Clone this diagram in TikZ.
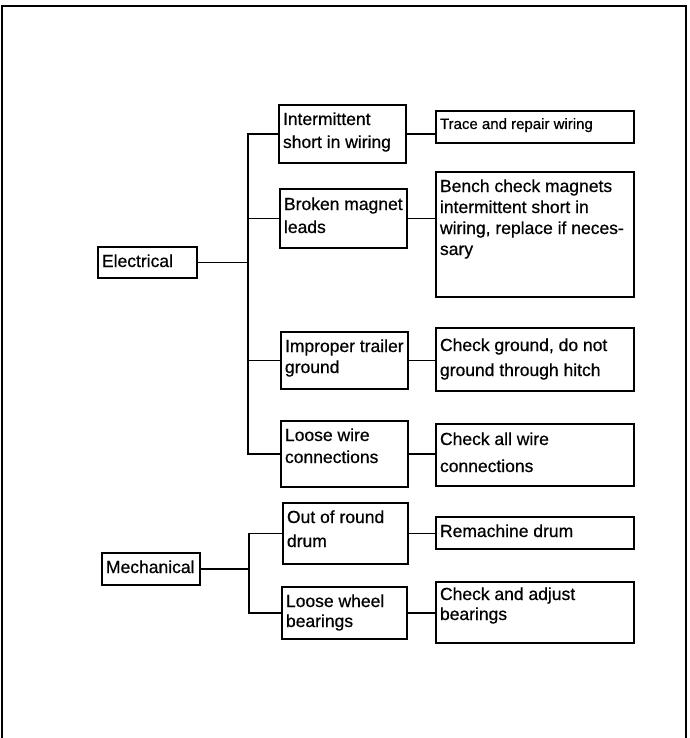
\documentclass[tikz,border=0pt]{standalone}
\usepackage{fontspec}
\setmainfont{Liberation Sans}[FakeBold=0.6]
\newfontfamily\boxfont{Liberation Sans}[FakeBold=0.6]
% width, height, font size, line skip, first baseline, text
\newcommand\bxt[6]{\parbox[t][#2][t]{#1}{\boxfont\fontsize{#3}{#4}\selectfont\raggedright\rule{0pt}{#5}#6}}
\begin{document}
\begin{tikzpicture}[x=1pt,y=-1pt,
  box/.style={draw, line width=1.6pt, inner xsep=4pt, inner ysep=0pt, outer sep=0pt, anchor=north west},
  link/.style={line width=1.7pt}]
\useasboundingbox (0,0) rectangle (689,738);
\draw[line width=2.5pt] (2,738) -- (2,6) -- (686,6) -- (686,738);

% categories
\node[box] (elec) at (98,247) {\bxt{91pt}{31pt}{17.5}{21}{20pt}{\mbox{Electrical}}};
\node[box] (mech) at (102,553) {\bxt{90pt}{32pt}{17.5}{21}{20pt}{\mbox{Mechanical}}};

% causes
\node[box] (c1) at (279,105) {\bxt{119pt}{58pt}{17.5}{23}{20pt}{\mbox{Intermittent}\\\mbox{short in wiring}}};
\node[box] (c2) at (280,189) {\bxt{119pt}{59pt}{17.5}{23}{21pt}{\mbox{Broken magnet}\\\mbox{leads}}};
\node[box] (c3) at (281,332) {\bxt{119pt}{57pt}{17.5}{21}{20pt}{\mbox{Improper trailer}\\\mbox{ground}}};
\node[box] (c4) at (281,421) {\bxt{119pt}{66pt}{17.5}{22}{20pt}{\mbox{Loose wire}\\\mbox{connections}}};
\node[box] (c5) at (283,503) {\bxt{117pt}{61pt}{17.5}{24}{20pt}{\mbox{Out of round}\\\mbox{drum}}};
\node[box] (c6) at (282,587) {\bxt{117pt}{52pt}{17.5}{20}{20pt}{\mbox{Loose wheel}\\\mbox{bearings}}};

% remedies
\node[box] (r1) at (436,111) {\bxt{190pt}{32pt}{15}{18}{18pt}{\mbox{Trace and repair wiring}}};
\node[box] (r2) at (436,172) {\bxt{190pt}{125pt}{17.5}{21}{20pt}{\mbox{Bench check magnets}\\\mbox{intermittent short in}\\\mbox{wiring, replace if neces-}\\\mbox{sary}}};
\node[box] (r3) at (436,328) {\bxt{190pt}{63pt}{17.5}{25}{23pt}{\mbox{Check ground, do not}\\\mbox{ground through hitch}}};
\node[box] (r4) at (436,424) {\bxt{190pt}{62pt}{17.5}{27}{21pt}{\mbox{Check all wire}\\\mbox{connections}}};
\node[box] (r5) at (436,517) {\bxt{190pt}{32pt}{17.5}{21}{20pt}{\mbox{Remachine drum}}};
\node[box] (r6) at (436,582) {\bxt{190pt}{61pt}{17.5}{20}{18pt}{\mbox{Check and adjust}\\\mbox{bearings}}};

% electrical tree
\coordinate (ej) at (248,0);
\draw[link] (elec.east) -- (elec.east -| ej);
\draw[link] (c1.west) -- (c1.west -| ej) -- (c4.west -| ej) -- (c4.west);
\draw[link] (c2.west) -- (c2.west -| ej);
\draw[link] (c3.west) -- (c3.west -| ej);

% mechanical tree
\coordinate (mj) at (249,0);
\draw[link] (mech.east) -- (mech.east -| mj);
\draw[link] (c5.west) -- (c5.west -| mj) -- (c6.west -| mj) -- (c6.west);

% cause -> remedy
\draw[link] (c1.east) -- (c1.east -| r1.west);
\draw[link] (c2.east) -- (c2.east -| r2.west);
\draw[link] (c3.east) -- (c3.east -| r3.west);
\draw[link] (c4.east) -- (c4.east -| r4.west);
\draw[link] (c5.east) -- (c5.east -| r5.west);
\draw[link] (c6.east) -- (c6.east -| r6.west);
\end{tikzpicture}
\end{document}
